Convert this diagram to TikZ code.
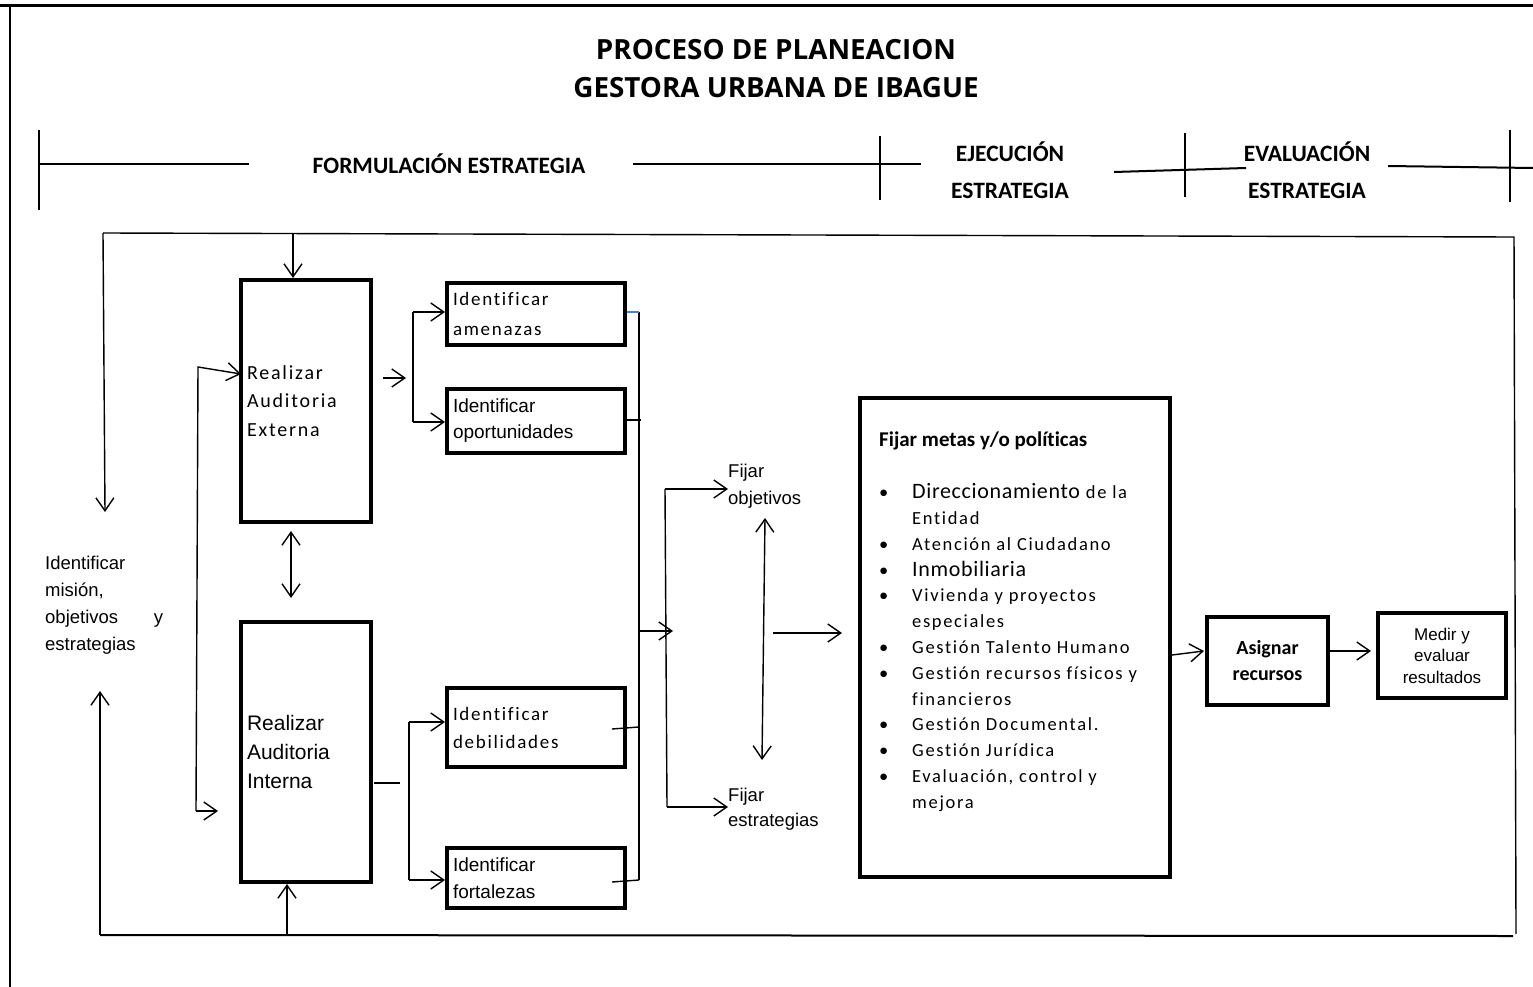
\documentclass[tikz,border=0pt]{standalone}
\usepackage{fontspec}
\setmainfont{Liberation Sans}
\newfontfamily\fcarl[Ligatures=NoCommon]{Carlito}
\newfontfamily\fcarlsp[LetterSpace=9,Ligatures=NoCommon]{Carlito}
\newfontfamily\fcarlsm[LetterSpace=3,Ligatures=NoCommon]{Carlito}
\newfontfamily\fopen{Open Sans}
\usetikzlibrary{arrows.meta}
\definecolor{lineblue}{HTML}{4F81BD}
\begin{document}
\begin{tikzpicture}[x=1pt,y=-1pt,
  conn/.style={line width=1.4pt},
  arr/.style={conn,-{Straight Barb[length=13pt,width=18pt,line width=1.4pt]}},
  darr/.style={conn,{Straight Barb[length=13pt,width=18pt,line width=1.4pt]}-{Straight Barb[length=13pt,width=18pt,line width=1.4pt]}},
  box/.style={draw,line width=4pt,inner sep=0pt,inner xsep=6pt,align=left},
  plain/.style={inner sep=0pt,align=left},
  hdr/.style={inner sep=0pt,align=center,font=\fcarl\bfseries\fontsize{23.5}{37}\selectfont},
  sep/.style={line width=2pt}]
\useasboundingbox (0,0) rectangle (1533,987);
% outer frame
\draw[line width=3pt] (0,6) -- (1533,6);
\draw[line width=2.5pt] (10,6) -- (10,987);
% title
\node[inner sep=0pt,align=center,font=\fopen\bfseries\fontsize{27.8}{38}\selectfont] (title) at (776,69)
  {PROCESO DE PLANEACION\\GESTORA URBANA DE IBAGUE};
% header
\node[hdr] (formul) at (449,164) {FORMULACIÓN ESTRATEGIA};
\node[hdr] (ejec) at (1010,170) {EJECUCIÓN\\ESTRATEGIA};
\node[hdr] (evalh) at (1307,170) {EVALUACIÓN\\ESTRATEGIA};
\draw[line width=1.2pt] (39,130) -- (39,210);
\draw[sep] (39,164) -- (249,164);
\draw[line width=2.5pt] (633,164) -- (921,164);
\draw[line width=1.2pt] (880,136) -- (880,200);
\draw[sep] (1114,172) -- (1246,168);
\draw[line width=1.2pt] (1185,133) -- (1185,197);
\draw[sep] (1388,166) -- (1533,168);
\draw[line width=1.2pt] (1510,130) -- (1510,202);
% main frame
\coordinate (ftl) at (103,233);
\coordinate (ftr) at (1514,237);
\coordinate (fbr) at (1516,934);
\coordinate (fbl) at (100,935);
\draw[conn] (ftl) -- (ftr) -- (fbr);
\draw[line width=2pt] (fbl) -- (1513,936);
% left text
\node[plain,anchor=west,text width=118pt,font=\fontsize{18.5}{27}\selectfont] (mis) at (45,605)
  {Identificar\\misión,\\objetivos\hfill y\\estrategias};
\coordinate (ldn) at (105,512);
\coordinate (lup) at (100,691);
\draw[arr] (ftl) -- (ldn);
\draw[arr] (fbl) -- (lup);
% audit boxes
\node[box,text width=118pt,minimum width=130pt,minimum height=242pt,font=\fcarlsp\fontsize{20}{28.5}\selectfont] (ext) at (306,401)
  {Realizar\\Auditoria\\Externa};
\node[box,text width=118pt,minimum width=130pt,minimum height=260pt,font=\fontsize{21}{29}\selectfont] (int) at (306,752)
  {Realizar\\Auditoria\\Interna};
\coordinate (topA) at (293,233);
\draw[arr] (topA) -- (topA |- ext.north);
\coordinate (botA) at (287,935);
\draw[arr] (botA) -- (botA |- int.south);
\coordinate (dA1) at (291,531);
\coordinate (dA2) at (291,598);
\draw[darr] (dA1) -- (dA2);
\coordinate (lb1) at (198,367);
\coordinate (lb2) at (196,811);
\coordinate (extin) at (241,374);
\coordinate (intin) at (218,811);
\draw[arr] (lb2) -- (lb1) -- (extin);
\draw[arr] (lb2) -- (intin);
% SWOT boxes
\node[box,text width=166pt,minimum width=178pt,minimum height=62pt,font=\fcarlsp\fontsize{19}{30}\selectfont] (ame) at (536,314)
  {Identificar\\amenazas};
\node[box,text width=166pt,minimum width=178pt,minimum height=64pt,font=\fontsize{19}{26}\selectfont] (opo) at (536,421)
  {Identificar\\oportunidades};
\node[box,text width=166pt,minimum width=178pt,minimum height=79pt,font=\fcarlsp\fontsize{19}{28}\selectfont] (deb) at (536,727.5)
  {Identificar\\debilidades};
\node[box,text width=166pt,minimum width=178pt,minimum height=60pt,font=\fontsize{19}{27}\selectfont] (fort) at (536,878)
  {Identificar\\fortalezas};
% from externa to bracket
\coordinate (eo1) at (383,378);
\coordinate (eo2) at (406,378);
\draw[arr] (eo1) -- (eo2);
\coordinate (b1t) at (413,312);
\coordinate (b1b) at (413,422);
\draw[conn] (b1t) -- (b1b);
\draw[arr] (b1t) -- (b1t -| ame.west);
\draw[arr] (b1b) -- (b1b -| opo.west);
% from interna to bracket
\coordinate (io1) at (374,783);
\coordinate (io2) at (400,783);
\draw[conn] (io1) -- (io2);
\coordinate (b2t) at (409,722);
\coordinate (b2b) at (409,880);
\draw[conn] (b2t) -- (b2b);
\draw[arr] (b2t) -- (b2t -| deb.west);
\draw[arr] (b2b) -- (b2b -| fort.west);
% collector
\coordinate (ct) at (639,312);
\coordinate (cb) at (639,880);
\draw[conn] (ct) -- (cb);
\draw[conn,lineblue] (ct -| ame.east) -- (ct);
\coordinate (co) at (641,420);
\draw[conn] (co -| opo.east) -- (co);
\coordinate (cd1) at (612,729);
\coordinate (cd2) at (639,727);
\draw[conn] (cd1) -- (cd2);
\coordinate (cf1) at (612,882);
\coordinate (cf2) at (639,880);
\draw[conn] (cf1) -- (cf2);
\coordinate (cm) at (639,631);
\coordinate (cmb) at (673,631);
\draw[arr] (cm) -- (cmb);
% objectives / strategies
\node[plain,anchor=west,font=\fontsize{18.5}{27}\selectfont] (fobj) at (728,486.5) {Fijar\\objetivos};
\node[plain,anchor=west,font=\fontsize{18.5}{25}\selectfont] (fest) at (728,809.5) {Fijar\\estrategias};
\coordinate (b3t) at (665,489);
\coordinate (b3b) at (667,807);
\draw[conn] (b3t) -- (b3b);
\draw[arr] (b3t) -- (b3t -| fobj.west);
\draw[arr] (b3b) -- (b3b -| fest.west);
\coordinate (od1) at (765,518);
\coordinate (od2) at (762,760);
\draw[darr] (od1) -- (od2);
\coordinate (om1) at (773,633);
\coordinate (om2) at (842,633);
\draw[arr] (om1) -- (om2);
% metas box
\node[draw,line width=4.5pt,minimum width=310pt,minimum height=479pt,inner sep=0pt] (metas) at (1015,637.5) {};
\node[plain,anchor=north west,font=\fcarlsp\fontsize{18.5}{25.8}\selectfont] (metastxt) at (879,432)
  {{\fcarl\bfseries\fontsize{21}{25.8}\selectfont Fijar metas y/o políticas}\\[26pt]
   \makebox[33pt][l]{\fcarl\textbullet}{\fcarlsm\fontsize{22}{25.8}\selectfont Direccionamiento} de la\\
   \hspace*{33pt}Entidad\\
   \makebox[33pt][l]{\fcarl\textbullet}Atención al Ciudadano\\
   \makebox[33pt][l]{\fcarl\textbullet}{\fcarlsm\fontsize{22}{25.8}\selectfont Inmobiliaria}\\
   \makebox[33pt][l]{\fcarl\textbullet}Vivienda y proyectos\\
   \hspace*{33pt}especiales\\
   \makebox[33pt][l]{\fcarl\textbullet}Gestión Talento Humano\\
   \makebox[33pt][l]{\fcarl\textbullet}Gestión recursos físicos y\\
   \hspace*{33pt}financieros\\
   \makebox[33pt][l]{\fcarl\textbullet}Gestión Documental.\\
   \makebox[33pt][l]{\fcarl\textbullet}Gestión Jurídica\\
   \makebox[33pt][l]{\fcarl\textbullet}Evaluación, control y\\
   \hspace*{33pt}mejora};
% resources & evaluation
\node[draw,line width=4pt,minimum width=121pt,minimum height=88pt,inner sep=0pt,align=center,font=\fcarl\bfseries\fontsize{20}{26}\selectfont] (asig) at (1267.5,661)
  {Asignar\\recursos};
\node[draw,line width=4pt,minimum width=128pt,minimum height=85pt,inner sep=0pt,align=center,font=\fontsize{17}{21.5}\selectfont] (medir) at (1442,655.5)
  {Medir y\\evaluar\\resultados};
\coordinate (ma1) at (1172,655);
\coordinate (ma2) at (1204,651);
\draw[arr] (ma1) -- (ma2);
\coordinate (am1) at (1330,651);
\coordinate (am2) at (1371,651);
\draw[arr] (am1) -- (am2);
\end{tikzpicture}
\end{document}
